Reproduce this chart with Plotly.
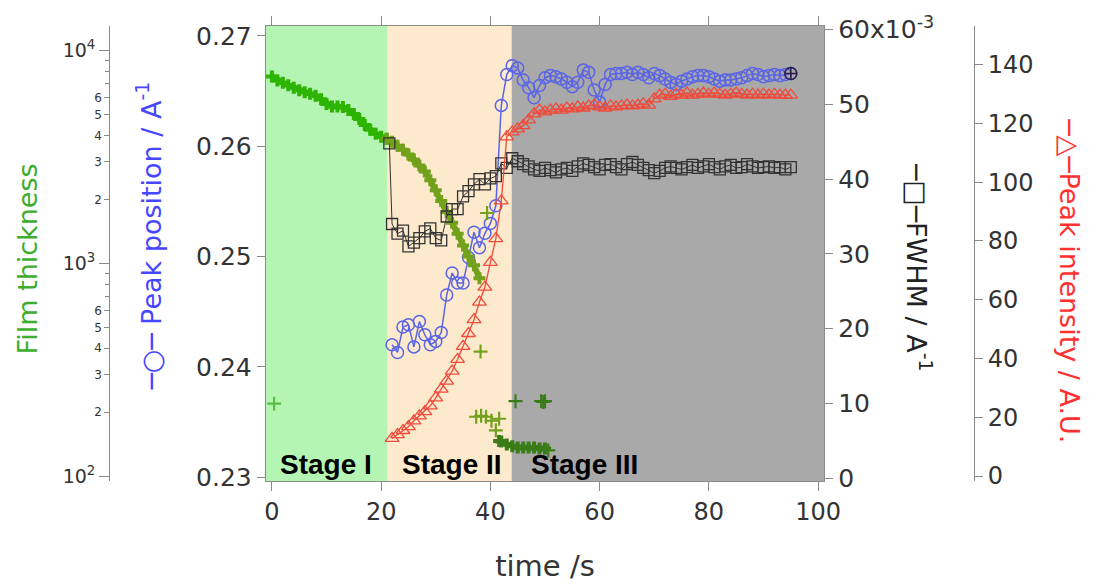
import plotly.graph_objects as go

# ---------------- data ----------------
time_s = [22, 23, 24, 25, 26, 27, 28, 29, 30, 31,
          32, 33, 34, 35, 36, 37, 38, 39, 40, 41,
          42, 43, 44, 45, 46, 47, 48, 49, 50, 51,
          52, 53, 54, 55, 56, 57, 58, 59, 60, 61,
          62, 63, 64, 65, 66, 67, 68, 69, 70, 71,
          72, 73, 74, 75, 76, 77, 78, 79, 80, 81,
          82, 83, 84, 85, 86, 87, 88, 89, 90, 91,
          92, 93, 94, 95]

peak_position = [0.2420, 0.2413, 0.2436, 0.2438, 0.2418, 0.2441, 0.2429, 0.2420, 0.2423, 0.2431,
                 0.2465, 0.2485, 0.2476, 0.2476, 0.2499, 0.2522, 0.2508, 0.2521, 0.2530, 0.2546,
                 0.2637, 0.2665, 0.2673, 0.2671, 0.2660, 0.2653, 0.2644, 0.2655, 0.2662, 0.2664,
                 0.2663, 0.2661, 0.2658, 0.2654, 0.2658, 0.2669, 0.2667, 0.2651, 0.2640, 0.2656,
                 0.2665, 0.2666, 0.2666, 0.2667, 0.2665, 0.2667, 0.2665, 0.2662, 0.2666, 0.2664,
                 0.2661, 0.2658, 0.2656, 0.2659, 0.2661, 0.2663, 0.2664, 0.2664, 0.2663, 0.2661,
                 0.2659, 0.2660, 0.2660, 0.2661, 0.2662, 0.2664, 0.2666, 0.2665, 0.2663, 0.2664,
                 0.2665, 0.2664, 0.2665, 0.2666]

peak_intensity = [12.8, 14.1, 15.5, 16.8, 18.8, 20.5, 21.9, 23.9, 26.6, 29.6,
                  32.3, 35.7, 39.7, 44.1, 48.5, 53.2, 59.2, 64.3, 72.7, 80.8,
                  93.6, 115.4, 117.1, 118.1, 119.2, 121.2, 123.2, 124.5, 123.9, 124.5,
                  124.9, 124.5, 125.2, 124.9, 125.6, 125.2, 125.9, 126.2, 125.6, 125.2,
                  125.9, 125.6, 125.9, 126.2, 125.9, 126.2, 126.6, 126.2, 128.3, 129.6,
                  129.9, 129.2, 129.9, 129.6, 130.3, 129.6, 129.9, 130.3, 129.9, 130.3,
                  129.9, 129.6, 129.9, 130.3, 129.9, 129.6, 129.9, 129.6, 129.9, 129.6,
                  129.9, 129.6, 129.6, 129.6]

fwhm_time = [21.5, 22, 23, 24, 25, 26, 27, 28, 29, 30, 31,
             32, 33, 34, 35, 36, 37, 38, 39, 40, 41,
             42, 43, 44, 45, 46, 47, 48, 49, 50, 51,
             52, 53, 54, 55, 56, 57, 58, 59, 60, 61,
             62, 63, 64, 65, 66, 67, 68, 69, 70, 71,
             72, 73, 74, 75, 76, 77, 78, 79, 80, 81,
             82, 83, 84, 85, 86, 87, 88, 89, 90, 91,
             92, 93, 94, 95]
fwhm_milli = [44.8, 34.0, 32.7, 33.1, 31.0, 31.5, 32.1, 33.0, 33.4, 32.1, 31.8,
              35.0, 36.0, 36.0, 37.7, 38.4, 39.3, 40.0, 39.3, 40.1, 40.4,
              42.1, 41.5, 42.8, 42.4, 42.0, 41.7, 41.3, 41.1, 41.5, 41.2,
              40.9, 41.3, 41.5, 41.1, 41.7, 42.1, 41.9, 41.6, 41.3, 41.9,
              42.0, 41.6, 41.3, 42.0, 42.3, 41.9, 41.5, 41.2, 40.8, 41.1,
              41.5, 41.7, 41.5, 41.3, 41.6, 41.9, 41.5, 41.7, 42.0, 41.6,
              41.3, 41.7, 41.9, 41.5, 41.6, 42.0, 41.7, 41.5, 41.6, 41.7,
              41.5, 41.6, 41.3, 41.6]

film_time_stage1 = [0, 1, 2, 3, 4, 5, 6, 7, 8, 9, 10, 11, 12, 13, 14, 15, 16, 17, 18, 19, 20, 21]
film_stage1 = [7571, 7254, 7061, 6875, 6693, 6516, 6378, 6276, 6143, 5917, 5610,
               5462, 5462, 5433, 5261, 5040, 4776, 4479, 4245, 4067, 3938, 3855]

film_time_stage2 = [21, 22, 23, 24, 25, 26, 27, 28, 29, 30, 31, 32, 33, 34, 35, 36, 37, 38]
film_stage2 = [3855, 3734, 3577, 3426, 3248, 3079, 2887, 2708, 2459, 2209, 1963,
               1746, 1551, 1379, 1213, 1078, 979, 851]

film_time_stage3 = [41.6, 42, 43, 44, 45, 46, 47, 48, 49, 50]
film_stage3 = [146, 145.5, 140.9, 137.9, 136.4, 136.4, 136.4, 136.4, 134.9, 134.9]

outlier_time = [0.4, 37.4, 38.2, 38.3, 39.2, 39.4, 40.2, 41.0, 41.6, 44.6, 49.3, 49.7, 50.0, 50.6]
outlier_thickness = [219, 190, 385, 192, 190, 1726, 182, 164, 186, 225, 225, 223, 225, 132]

stage_names = ["Stage I", "Stage II", "Stage III"]
stage_bounds = [-1.1, 21.2, 43.9, 101.1]

# ---------------- styling ----------------
FONT = "DejaVu Sans"
AX = "#8a8a8a"
TXT = "#333333"
stage_fill = ["#b4f5b4", "#fdeacd", "#a9a9a9"]
green_by_stage = ["#2db400", "#72a11c", "#3a7d18"]
BLUE = "#5a64e6"
RED = "#f04a3a"
BLACK = "#333333"

fig = go.Figure()

# stage backgrounds
for i in range(3):
    fig.add_shape(type="rect", xref="x", yref="paper",
                  x0=stage_bounds[i], x1=stage_bounds[i + 1], y0=0, y1=1,
                  fillcolor=stage_fill[i], line_width=0, layer="below")

# film thickness band (log axis)
for tt, vv, col in [(film_time_stage1, film_stage1, green_by_stage[0]),
                    (film_time_stage2, film_stage2, green_by_stage[1]),
                    (film_time_stage3, film_stage3, green_by_stage[2])]:
    fig.add_trace(go.Scatter(x=tt, y=vv, yaxis="y2", mode="lines+markers",
                             line=dict(color=col, width=6),
                             marker=dict(symbol="cross", size=10, color=col),
                             showlegend=False, hoverinfo="skip"))


def stage_color(t):
    for i in range(3):
        if stage_bounds[i] <= t < stage_bounds[i + 1]:
            return green_by_stage[i] if i != 0 else "#5cbf3c"
    return green_by_stage[2]


fig.add_trace(go.Scatter(x=outlier_time, y=outlier_thickness, yaxis="y5", mode="markers",
                         marker=dict(symbol="cross-thin-open", size=10,
                                     color=[stage_color(t) for t in outlier_time],
                                     line=dict(width=2.2)),
                         showlegend=False, hoverinfo="skip"))

# peak intensity (red triangles)
fig.add_trace(go.Scatter(x=time_s, y=peak_intensity, yaxis="y4", mode="lines+markers",
                         line=dict(color=RED, width=1.3),
                         marker=dict(symbol="triangle-up-open", size=12, color=RED,
                                     line=dict(width=1.3)),
                         showlegend=False))

# FWHM (black squares)
fig.add_trace(go.Scatter(x=fwhm_time, y=fwhm_milli, yaxis="y3", mode="lines+markers",
                         line=dict(color=BLACK, width=1),
                         marker=dict(symbol="square-open", size=11, color=BLACK,
                                     line=dict(width=1.3)),
                         showlegend=False))

# peak position (blue circles)
fig.add_trace(go.Scatter(x=time_s, y=peak_position, yaxis="y", mode="lines+markers",
                         line=dict(color=BLUE, width=1.5),
                         marker=dict(symbol="circle-open", size=12, color=BLUE,
                                     line=dict(width=1.5)),
                         showlegend=False))
fig.add_trace(go.Scatter(x=[time_s[-1]], y=[peak_position[-1]], yaxis="y", mode="markers",
                         marker=dict(symbol="circle-cross-open", size=12, color="#2a1d4d",
                                     line=dict(width=1.5)),
                         showlegend=False))

# stage labels
label_x = [1.1, 23.4, 47.0]
for name, lx in zip(stage_names, label_x):
    fig.add_annotation(x=lx, y=0.036, xref="x", yref="paper", text="<b>%s</b>" % name,
                       showarrow=False, xanchor="left", yanchor="middle",
                       font=dict(family="Liberation Sans", size=28, color="black"))

L, R, T, B = 20, 20, 23, 105
W, H = 1099, 588
pw = W - L - R
ph = H - T - B


def px(x):
    return (x - L) / pw


def py(y):
    return (H - B - y) / ph


tickfont = dict(family=FONT, size=25, color=TXT)

fig.update_layout(
    width=W, height=H,
    margin=dict(l=L, r=R, t=T, b=B),
    paper_bgcolor="white", plot_bgcolor="white",
    font=dict(family=FONT, color=TXT),
    xaxis=dict(domain=[px(268), px(831)], range=[stage_bounds[0], stage_bounds[-1]],
               tickvals=[0, 20, 40, 60, 80, 100], ticks="outside", ticklen=9,
               tickcolor=AX, showline=True, linecolor=AX, linewidth=1.2, mirror="ticks",
               showgrid=False, zeroline=False, tickfont=dict(family=FONT, size=24, color=TXT),
               title=dict(text="time /s", font=dict(family=FONT, size=29, color=TXT), standoff=30)),
    yaxis=dict(range=[0.22964, 0.27090], tickvals=[0.23, 0.24, 0.25, 0.26, 0.27],
               ticktext=["0.23", "0.24", "0.25", "0.26", "0.27"],
               ticks="outside", ticklen=8, tickcolor=AX, showline=True, linecolor=AX,
               linewidth=1.2, showgrid=False, zeroline=False, tickfont=tickfont),
    yaxis2=dict(type="log", range=[1.9767, 4.1163], overlaying="y", anchor="free",
                position=px(110), side="left", showline=True, linecolor=AX, linewidth=1.2,
                ticks="outside", ticklen=10, tickcolor=AX,
                tickvals=[100, 1000, 10000],
                ticktext=["10<sup>2</sup>", "10<sup>3</sup>", "10<sup>4</sup>"],
                tickfont=dict(family=FONT, size=19, color=TXT), showgrid=False, zeroline=False),
    yaxis5=dict(type="log", range=[1.9767, 4.1163], overlaying="y", anchor="free",
                position=px(110), side="left", showline=False,
                ticks="outside", ticklen=5, tickcolor=AX,
                tickvals=[200, 300, 400, 500, 600, 2000, 3000, 4000, 5000, 6000],
                ticktext=["2", "3", "4", "5", "6", "2", "3", "4", "5", "6"],
                minor=dict(tickmode="array", tickvals=[700, 800, 900, 7000, 8000, 9000],
                           ticks="outside", ticklen=4, tickcolor=AX, showgrid=False),
                tickfont=dict(family=FONT, size=12, color=TXT), showgrid=False, zeroline=False),
    yaxis3=dict(range=[-0.4, 60.5], overlaying="y", anchor="x", side="right",
                tickvals=[0, 10, 20, 30, 40, 50, 60],
                ticktext=["0", "10", "20", "30", "40", "50", "60x10<sup>-3</sup>"],
                ticks="outside", ticklen=8, tickcolor=AX, showline=True, linecolor=AX,
                linewidth=1.2, showgrid=False, zeroline=False, tickfont=tickfont),
    yaxis4=dict(range=[-1.68, 153.1], overlaying="y", anchor="free", position=px(982),
                side="right", tickvals=[0, 20, 40, 60, 80, 100, 120, 140],
                ticks="outside", ticklen=8, tickcolor=AX, showline=True, linecolor=AX,
                linewidth=1.2, showgrid=False, zeroline=False,
                tickfont=dict(family=FONT, size=24, color=TXT)),
)

# axis titles (rotated annotations)
titles = [
    ("Film thickness", 28, 258, -90, "#3cad2c"),
    ("─○─ Peak position / A<sup>-1</sup>", 150, 235, -90, "#4646ff"),
    ("─□─FWHM / A<sup>-1</sup>", 927, 267, 90, "#222222"),
    ("─△─Peak intensity / A.U.", 1079, 280, 90, "#ff3030"),
]
for text, x, y, ang, col in titles:
    fig.add_annotation(x=px(x), y=py(y), xref="paper", yref="paper", text=text,
                       textangle=ang, showarrow=False, xanchor="center", yanchor="middle",
                       font=dict(family=FONT, size=27, color=col))

fig.write_html("out.html")
